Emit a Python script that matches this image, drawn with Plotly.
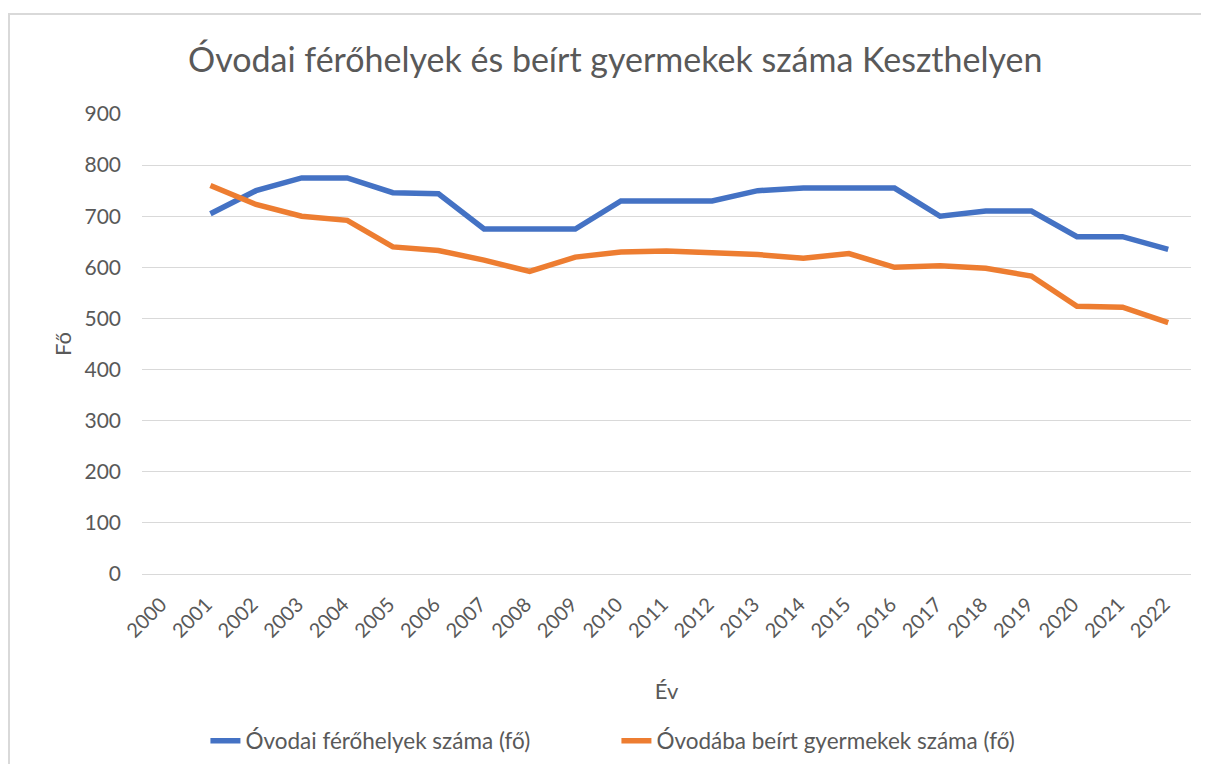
import plotly.graph_objects as go

years = [str(y) for y in range(2000, 2023)]
ferohelyek = [None, 705, 750, 775, 775, 746, 744, 675, 675, 675, 730, 730, 730, 750, 755, 755, 755, 700, 710, 710, 660, 660, 635]
beirt = [None, 760, 723, 700, 692, 640, 633, 614, 592, 620, 630, 632, 628, 625, 618, 627, 600, 603, 598, 583, 524, 522, 492]
yticks = [0, 100, 200, 300, 400, 500, 600, 700, 800, 900]

FONT = "Lato"
GRAY = "#595959"

fig = go.Figure()
fig.add_trace(go.Scatter(x=years, y=ferohelyek, mode="lines", name="Óvodai férőhelyek száma (fő)",
                         line=dict(color="#4472C4", width=5.5)))
fig.add_trace(go.Scatter(x=years, y=beirt, mode="lines", name="Óvodába beírt gyermekek száma (fő)",
                         line=dict(color="#ED7D31", width=5.5)))

fig.update_layout(
    width=1193, height=756,
    margin=dict(l=134, r=10, t=106, b=190),
    paper_bgcolor="white", plot_bgcolor="white",
    font=dict(family=FONT, color=GRAY, size=20),
    title=dict(text="Óvodai férőhelyek és beírt gyermekek száma Keszthelyen",
               x=0.509, xanchor="center", y=1 - 52 / 756, yanchor="middle",
               font=dict(family=FONT, size=34, color=GRAY)),
    xaxis=dict(type="category", range=[-0.5, len(years) - 0.5], tickangle=-45,
               showgrid=False, showline=False, ticks="", automargin=False,
               tickfont=dict(size=20, color=GRAY), ticklabelshift=-4, ticklabelstandoff=14,
               title=dict(text="Év", font=dict(size=22, color=GRAY), standoff=42)),
    yaxis=dict(range=[0, 900], tickvals=yticks, showgrid=True, gridcolor="#D9D9D9", gridwidth=1.3,
               zeroline=True, zerolinecolor="#D9D9D9", zerolinewidth=1.3, showline=False, ticks="",
               automargin=False,
               tickfont=dict(size=21, color=GRAY), ticklabelstandoff=20,
               title=dict(text="Fő", font=dict(size=22, color=GRAY), standoff=6)),
    legend=dict(orientation="h", xref="container", yref="container",
                x=0.51, xanchor="center", y=0.0304, yanchor="middle",
                font=dict(size=22.5, color=GRAY), tracegroupgap=0,
                entrywidth=366, entrywidthmode="pixels",
                bgcolor="rgba(0,0,0,0)"),
    showlegend=True,
)

fig.add_shape(type="rect", xref="paper", yref="paper",
              x0=(9 - 142) / 1049, x1=1.2, y0=-0.6, y1=(574 - 14) / 460,
              line=dict(color="#D9D9D9", width=2), fillcolor="rgba(0,0,0,0)", layer="below")

fig.write_html("out.html")
